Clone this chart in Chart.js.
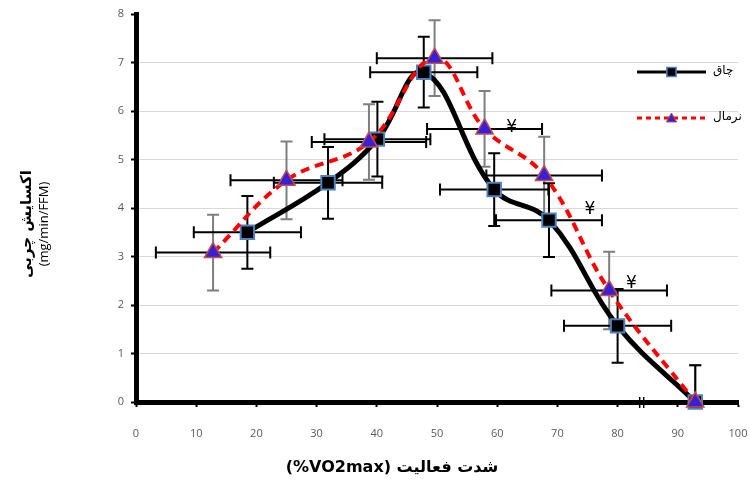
<!DOCTYPE html>
<html>
<head>
<meta charset="utf-8">
<script src="https://cdn.jsdelivr.net/npm/chart.js@4"></script>
<style>
  html, body { margin: 0; padding: 0; background: #fff; }
  canvas { display: block; }
</style>
</head>
<body>
<canvas id="chart" width="750" height="483"></canvas>
<script>
// obese group (چاق)
const obeseX = [18.5, 31.9, 40.1, 47.8, 59.5, 68.6, 80.0, 92.9];
const obeseY = [3.50, 4.52, 5.42, 6.80, 4.38, 3.75, 1.57, 0];
const obeseXErr = [8.9, 9.0, 8.8, 8.9, 9.0, 8.8, 8.9, 0];
const obeseYErr = [0.75, 0.74, 0.77, 0.73, 0.75, 0.76, 0.76, 0.76];

// normal group (نرمال)
const normalX = [12.8, 25.0, 38.7, 49.6, 57.9, 67.8, 78.6, 92.9];
const normalY = [3.08, 4.57, 5.36, 7.09, 5.63, 4.67, 2.30, 0];
const normalXErr = [9.5, 9.3, 9.5, 9.6, 9.55, 9.6, 9.6, 0];
const normalYErr = [0.78, 0.80, 0.78, 0.78, 0.78, 0.80, 0.80, 0.76];

// significance marks
const yenX = [62.4, 75.4, 82.3];
const yenY = [5.66, 3.96, 2.45];
const breakX = 84;

const labelObese = 'چاق';
const labelNormal = 'نرمال';
const yTitle1 = 'اکسایش چربی';
const yTitle2 = '(mg/min/FFM)';
const xTitle = '(%VO2max) شدت فعالیت';

const toPoints = (xs, ys) => xs.map((x, i) => ({ x: x, y: ys[i] }));

const errorBars = {
  id: 'errorBars',
  beforeDatasetsDraw(chart) {
    const { ctx, chartArea, scales: { x, y } } = chart;
    ctx.save();
    ctx.beginPath();
    ctx.rect(chartArea.left, chartArea.top - 12, chartArea.width + 12, chartArea.height + 12);
    ctx.clip();
    const cap = 6;
    const sets = [
      { xs: normalX, ys: normalY, xe: normalXErr, ye: normalYErr, xc: '#000', yc: '#7f7f7f' },
      { xs: obeseX, ys: obeseY, xe: obeseXErr, ye: obeseYErr, xc: '#000', yc: '#000' }
    ];
    sets.forEach(s => {
      s.xs.forEach((v, i) => {
        const px = x.getPixelForValue(v);
        const py = y.getPixelForValue(s.ys[i]);
        ctx.lineWidth = 2;
        if (s.xe[i] > 0) {
          const l = x.getPixelForValue(v - s.xe[i]);
          const r = x.getPixelForValue(v + s.xe[i]);
          ctx.strokeStyle = s.xc;
          ctx.beginPath();
          ctx.moveTo(l, py); ctx.lineTo(r, py);
          ctx.moveTo(l, py - cap); ctx.lineTo(l, py + cap);
          ctx.moveTo(r, py - cap); ctx.lineTo(r, py + cap);
          ctx.stroke();
        }
        if (s.ye[i] > 0) {
          const t = y.getPixelForValue(s.ys[i] + s.ye[i]);
          const b = y.getPixelForValue(s.ys[i] - s.ye[i]);
          ctx.strokeStyle = s.yc;
          ctx.beginPath();
          ctx.moveTo(px, t); ctx.lineTo(px, b);
          ctx.moveTo(px - cap, t); ctx.lineTo(px + cap, t);
          ctx.moveTo(px - cap, b); ctx.lineTo(px + cap, b);
          ctx.stroke();
        }
      });
    });
    ctx.restore();
  }
};

const extras = {
  id: 'extras',
  afterDraw(chart) {
    const { ctx, scales: { x, y } } = chart;
    ctx.save();
    // ¥ marks
    ctx.fillStyle = '#000';
    ctx.font = '17px "DejaVu Sans"';
    ctx.textAlign = 'center';
    ctx.textBaseline = 'middle';
    yenX.forEach((v, i) => {
      ctx.fillText('¥', x.getPixelForValue(v), y.getPixelForValue(yenY[i]));
    });
    // axis break
    const bx = x.getPixelForValue(breakX);
    const by = y.getPixelForValue(0);
    ctx.strokeStyle = '#000';
    ctx.lineWidth = 1.5;
    ctx.beginPath();
    ctx.moveTo(bx - 2, by - 5); ctx.lineTo(bx - 2, by + 6);
    ctx.moveTo(bx + 2, by - 5); ctx.lineTo(bx + 2, by + 6);
    ctx.stroke();

    // legend
    const H = Chart.helpers;
    ctx.lineWidth = 3;
    ctx.strokeStyle = '#000';
    ctx.setLineDash([]);
    ctx.beginPath(); ctx.moveTo(637, 72); ctx.lineTo(706, 72); ctx.stroke();
    ctx.fillStyle = '#000';
    ctx.strokeStyle = '#4f81bd';
    ctx.lineWidth = 1.5;
    H.drawPoint(ctx, { pointStyle: 'rect', radius: 6.5, rotation: 0, borderWidth: 1.5 }, 671.5, 72);
    ctx.strokeStyle = '#ff0000';
    ctx.lineWidth = 3;
    ctx.setLineDash([5, 4]);
    ctx.beginPath(); ctx.moveTo(637, 118); ctx.lineTo(706, 118); ctx.stroke();
    ctx.setLineDash([]);
    ctx.fillStyle = '#3b1fd6';
    ctx.strokeStyle = '#c0504d';
    ctx.lineWidth = 1;
    H.drawPoint(ctx, { pointStyle: 'triangle', radius: 6, rotation: 0, borderWidth: 1 }, 671.5, 119);
    ctx.fillStyle = '#000';
    ctx.font = '12px "DejaVu Sans"';
    ctx.textAlign = 'left';
    ctx.textBaseline = 'middle';
    ctx.fillText(labelObese, 713, 71);
    ctx.fillText(labelNormal, 713, 117);

    // axis titles
    ctx.textAlign = 'center';
    ctx.font = 'bold 16px "DejaVu Sans"';
    ctx.fillText(xTitle, 392, 468);
    ctx.save();
    ctx.translate(27, 224);
    ctx.rotate(-Math.PI / 2);
    ctx.font = 'bold 15px "DejaVu Sans"';
    ctx.fillText(yTitle1, 0, 0);
    ctx.font = '13px "Open Sans"';
    ctx.fillText(yTitle2, 0, 17);
    ctx.restore();
    ctx.restore();
  }
};

new Chart(document.getElementById('chart'), {
  type: 'line',
  data: {
    datasets: [
      {
        label: labelNormal,
        data: toPoints(normalX, normalY),
        borderColor: '#ff0000',
        borderWidth: 4,
        borderDash: [9, 6],
        tension: 0.4,
        fill: false,
        clip: false,
        pointStyle: 'triangle',
        pointRadius: 10,
        pointBackgroundColor: '#3b1fd6',
        pointBorderColor: '#c0504d',
        pointBorderWidth: 1.5,
        order: 0
      },
      {
        label: labelObese,
        data: toPoints(obeseX, obeseY),
        borderColor: '#000',
        borderWidth: 5,
        tension: 0.4,
        fill: false,
        clip: false,
        pointStyle: 'rect',
        pointRadius: 9.5,
        pointBackgroundColor: '#000',
        pointBorderColor: '#4f81bd',
        pointBorderWidth: 2,
        order: 1
      }
    ]
  },
  options: {
    responsive: false,
    animation: false,
    devicePixelRatio: 1,
    layout: { padding: { top: 14, right: 12, left: 0, bottom: 0 } },
    plugins: { legend: { display: false }, tooltip: { enabled: false } },
    scales: {
      x: {
        type: 'linear',
        min: 0,
        max: 100,
        afterFit(scale) { scale.height = 81; },
        ticks: { stepSize: 10, color: '#595959', font: { family: 'Open Sans', size: 11, lineHeight: 4.5 }, padding: 2, maxRotation: 0 },
        grid: { drawOnChartArea: false, tickLength: 5, tickColor: '#000', tickWidth: 2 },
        border: { color: '#000', width: 5 }
      },
      y: {
        min: 0,
        max: 8,
        afterFit(scale) { scale.width = 136; },
        ticks: { stepSize: 1, color: '#595959', font: { family: 'Open Sans', size: 11 }, padding: 7 },
        grid: {
          color: ctx => (ctx.tick && ctx.tick.value > 0 && ctx.tick.value < 8) ? '#d9d9d9' : 'rgba(0,0,0,0)',
          lineWidth: 1,
          tickLength: 5,
          tickColor: '#000',
          tickWidth: 2
        },
        border: { color: '#000', width: 5 }
      }
    }
  },
  plugins: [errorBars, extras]
});
</script>
</body>
</html>
